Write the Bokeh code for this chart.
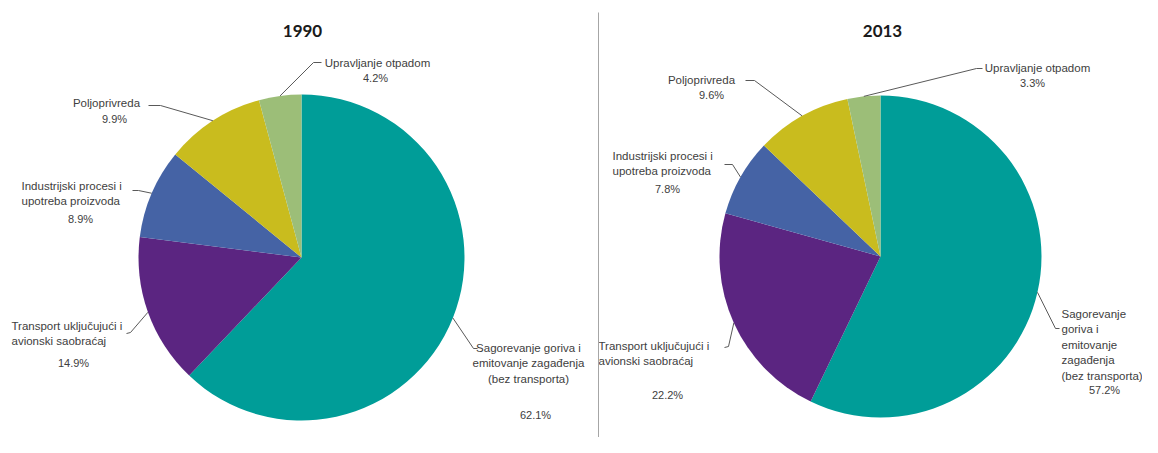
import math
from bokeh.plotting import figure
from bokeh.models import Range1d, ColumnDataSource
from bokeh.core.properties import value
from bokeh.embed import file_html
from bokeh.resources import INLINE

# ---------------- data ----------------
categories = [
    "Sagorevanje goriva i emitovanje zagađenja (bez transporta)",
    "Transport uključujući i avionski saobraćaj",
    "Industrijski procesi i upotreba proizvoda",
    "Poljoprivreda",
    "Upravljanje otpadom",
]
years = ["1990", "2013"]
values_1990 = [62.1, 14.9, 8.9, 9.9, 4.2]
values_2013 = [57.2, 22.2, 7.8, 9.6, 3.3]
colors = ["#009D98", "#5B2581", "#4563A5", "#C9BC1E", "#9CBE78"]

# label wording (line breaks as in the reference)
labels_1990 = [
    "Sagorevanje goriva i\nemitovanje zagađenja\n(bez transporta)",
    "Transport uključujući i\navionski saobraćaj",
    "Industrijski procesi i\nupotreba proizvoda",
    "Poljoprivreda",
    "Upravljanje otpadom",
]
labels_2013 = [
    "Sagorevanje\ngoriva i\nemitovanje\nzagađenja\n(bez transporta)",
    "Transport uključujući i\navionski saobraćaj",
    "Industrijski procesi i\nupotreba proizvoda",
    "Poljoprivreda",
    "Upravljanje otpadom",
]

# ---------------- layout (picture pixels) ----------------
W, H = 1142, 437
def X(px): return px
def Y(py): return H - py

pies = [
    dict(title=years[0], vals=values_1990, labels=labels_1990, cx=301, cy=257, r=163,
         title_x=302,
         # name: (x, y_first_line, align), pct: (x, y), leader: (elbow, end)
         lay=[
             ((528, 347, "center"), (535, 414), ((473, 348), (477, 348))),
             ((11, 325, "left"), (73, 362), ((130, 332), (126, 333))),
             ((21, 185, "left"), (80, 218), ((138, 190), (132, 190))),
             ((106, 102, "center"), (114, 118), ((160, 105), (148, 105))),
             ((377, 62, "center"), (375, 77), ((313, 62), (321, 62))),
         ]),
    dict(title=years[1], vals=values_2013, labels=labels_2013, cx=880, cy=256, r=161,
         title_x=882,
         lay=[
             ((1061, 313, "left"), (1104, 389), ((1055, 328), (1059, 328))),
             ((598, 345, "left"), (667, 394), ((728, 346), (724, 347))),
             ((612, 155, "left"), (667, 188), ((732, 164), (724, 164))),
             ((701, 79, "center"), (711, 94), ((754, 80), (745, 80))),
             ((1037, 67, "center"), (1032, 82), ((976, 68), (982, 68))),
         ]),
]

p = figure(width=W, height=H, output_backend="svg", toolbar_location=None,
           x_range=Range1d(0, W), y_range=Range1d(0, H), min_border=0)
p.axis.visible = False
p.grid.visible = False
p.outline_line_color = None
p.background_fill_color = "white"
p.border_fill_color = "white"

LABEL_FONT = value("Liberation Sans")
LABEL_COLOR = "#404040"
LINE_STEP = 15.5

for pie in pies:
    vals = pie["vals"]
    total = sum(vals)
    cum = 0.0
    starts, ends, mids = [], [], []
    for v in vals:
        f0 = cum / total
        cum += v
        f1 = cum / total
        starts.append(math.pi / 2 - 2 * math.pi * f1)
        ends.append(math.pi / 2 - 2 * math.pi * f0)
        mids.append((f0 + f1) / 2)
    src = ColumnDataSource(dict(start=starts, end=ends, color=colors, cat=categories, val=vals))
    p.wedge(x=X(pie["cx"]), y=Y(pie["cy"]), radius=pie["r"], start_angle="start", end_angle="end",
            direction="anticlock", fill_color="color", line_color=None, source=src)

    # title
    p.text(x=[X(pie["title_x"])], y=[Y(30)], text=[pie["title"]], text_align="center",
           text_baseline="middle", text_font=value("Lato"), text_font_style="bold",
           text_font_size="17px", text_color="#1a1a1a")

    for i, (lab, v) in enumerate(zip(pie["labels"], vals)):
        (nx, ny, al), (qx, qy), (elbow, end) = pie["lay"][i]
        lines = lab.split("\n")
        p.text(x=[X(nx)] * len(lines), y=[Y(ny + k * LINE_STEP) for k in range(len(lines))],
               text=lines, text_align=al, text_baseline="middle", text_font=LABEL_FONT,
               text_font_size="11.5px", text_color=LABEL_COLOR)
        p.text(x=[X(qx)], y=[Y(qy)], text=[f"{v:.1f}%"], text_align="center",
               text_baseline="middle", text_font=LABEL_FONT, text_font_size="11px",
               text_color=LABEL_COLOR)
        # leader line from the arc at the slice mid-angle
        th = 2 * math.pi * mids[i]
        ax = pie["cx"] + pie["r"] * math.sin(th)
        ay = pie["cy"] - pie["r"] * math.cos(th)
        p.line(x=[X(ax), X(elbow[0]), X(end[0])], y=[Y(ay), Y(elbow[1]), Y(end[1])],
               line_color="#595959", line_width=1)

# separator between the two charts
p.line(x=[X(598), X(598)], y=[Y(12), Y(H)], line_color="#a6a6a6", line_width=1)

open("out.html", "w").write(file_html(p, INLINE))
